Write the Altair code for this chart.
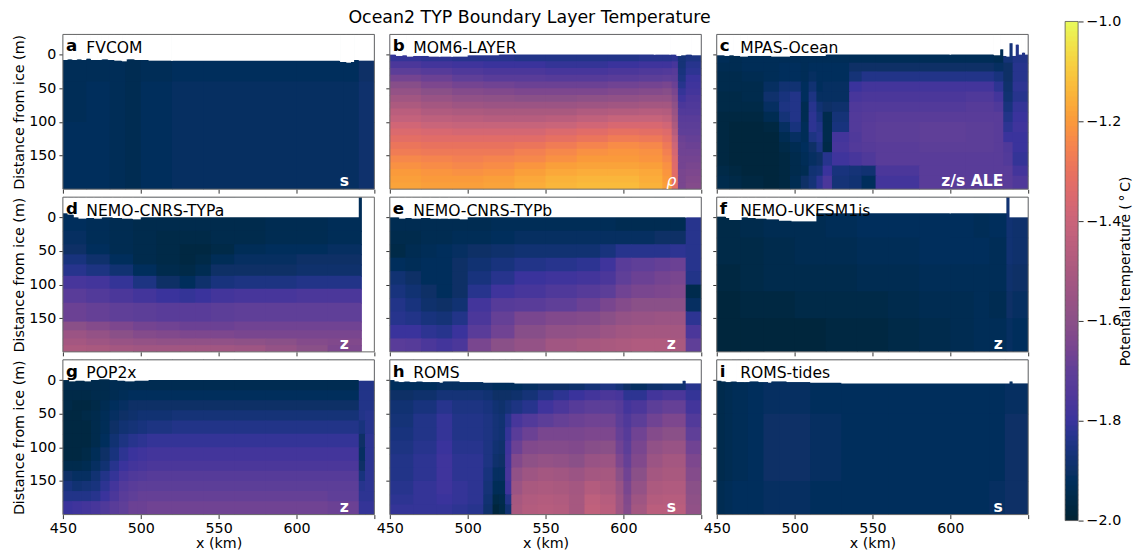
import altair as alt
import pandas as pd

THERMAL = ["#042333", "#0e3066", "#3a339c", "#5f3f98", "#8a5088", "#a9597f",
           "#c9657a", "#e8725e", "#fa9a3b", "#f8c93f", "#e8fa5b"]
W, H, FONT = 312, 155, "DejaVu Sans"
TOP = -30

# a FVCOM
A_X = [450, 465, 480, 490, 500, 520, 540, 600, 630, 640, 650]
A_Z = [TOP, 40, 100, 200]
A_T = [[193, 193, 193, 194, 193, 192, 192, 192, 192, 190],
       [193, 192, 193, 194, 192, 191, 191, 191, 191, 189],
       [192, 192, 193, 194, 192, 191, 191, 191, 191, 189]]
A_SX = [450, 453, 456, 459, 462, 465, 468, 472, 475, 479, 483, 488, 491, 496, 505, 520, 628, 632, 635, 637, 640, 650]
A_SD = [8, 7, 8, 7, 8, 6, 8, 8, 7, 8, 9, 10, 7, 8, 9, 9, 11, 12, 11, 8, 9]

# b MOM6-LAYER
B_X = [450, 470, 490, 510, 530, 550, 570, 590, 610, 625, 631, 635, 640, 650]
B_Z = [TOP, 10, 20, 30, 40, 50, 60, 70, 80, 90, 100, 110, 120, 130, 140, 150, 160, 170, 180, 190, 200]
B_T = [[181, 182, 183, 183, 184, 184, 184, 184, 183, 183, 182, 187, 185],
       [176, 178, 179, 180, 180, 181, 181, 180, 179, 179, 177, 187, 183],
       [171, 173, 175, 176, 176, 177, 177, 176, 175, 174, 173, 186, 182],
       [166, 168, 170, 172, 172, 173, 173, 172, 171, 170, 171, 185, 180],
       [161, 164, 166, 167, 168, 168, 168, 167, 166, 165, 168, 183, 179],
       [157, 160, 162, 163, 164, 164, 164, 163, 162, 161, 165, 181, 178],
       [153, 156, 158, 159, 160, 160, 159, 158, 157, 157, 162, 179, 176],
       [149, 152, 154, 155, 155, 155, 154, 153, 152, 152, 159, 176, 175],
       [145, 148, 149, 150, 150, 150, 148, 147, 146, 147, 156, 174, 174],
       [142, 144, 145, 146, 146, 145, 143, 141, 141, 143, 153, 172, 172],
       [138, 140, 141, 141, 141, 140, 138, 136, 136, 138, 149, 171, 171],
       [135, 136, 137, 137, 137, 135, 133, 131, 132, 134, 146, 170, 170],
       [132, 133, 133, 133, 133, 131, 129, 127, 128, 131, 142, 168, 169],
       [129, 130, 130, 130, 129, 127, 125, 123, 124, 128, 139, 167, 168],
       [127, 128, 128, 128, 126, 124, 122, 121, 122, 126, 137, 167, 167],
       [124, 125, 126, 125, 124, 122, 120, 120, 121, 124, 135, 166, 166],
       [122, 123, 124, 123, 121, 119, 118, 118, 119, 122, 134, 166, 165],
       [120, 121, 122, 121, 119, 117, 116, 116, 117, 121, 133, 165, 164],
       [119, 120, 120, 119, 117, 115, 114, 114, 116, 120, 132, 165, 163],
       [118, 119, 119, 118, 116, 114, 113, 113, 115, 119, 132, 165, 162]]
B_SX = [450, 454, 458, 461, 465, 470, 475, 482, 490, 500, 520, 620, 630, 634, 637, 640, 644, 650]
B_SD = [0, 2, 1, 3, 2, 2, 3, 3, 3, 1, 0, 0, 0, 2, 1, 0, 1]

# c MPAS-Ocean
C_X = [450, 458, 466, 480, 490, 497, 504, 509, 514, 518, 524, 535, 543, 552, 580, 610, 628, 634, 640, 650]
C_Z = [TOP, 12, 25, 40, 55, 70, 85, 100, 115, 130, 145, 165, 180, 200]
C_T = [[193, 194, 193, 193, 193, 193, 193, 193, 193, 193, 193, 193, 193, 193, 193, 193, 194, 187, 184],
       [194, 194, 193, 193, 192, 192, 193, 192, 192, 192, 192, 190, 190, 190, 190, 190, 191, 190, 183],
       [195, 195, 194, 193, 192, 192, 193, 191, 192, 192, 192, 187, 184, 184, 184, 184, 186, 190, 183],
       [195, 195, 195, 191, 188, 188, 192, 188, 192, 191, 191, 180, 178, 178, 178, 178, 182, 189, 182],
       [196, 196, 195, 189, 186, 184, 192, 185, 191, 191, 191, 177, 176, 176, 176, 175, 178, 188, 183],
       [196, 196, 196, 191, 185, 184, 194, 183, 188, 190, 189, 175, 174, 174, 174, 173, 175, 186, 181],
       [197, 197, 197, 194, 187, 184, 194, 182, 186, 195, 187, 174, 173, 172, 172, 172, 172, 184, 180],
       [197, 198, 198, 197, 191, 186, 193, 182, 184, 195, 186, 174, 172, 171, 170, 171, 172, 182, 179],
       [197, 198, 198, 198, 194, 191, 193, 185, 183, 195, 178, 175, 172, 171, 170, 171, 172, 180, 180],
       [197, 198, 198, 198, 196, 194, 192, 190, 185, 196, 177, 174, 173, 172, 171, 171, 172, 175, 180],
       [197, 198, 198, 198, 197, 195, 193, 191, 190, 183, 179, 177, 175, 172, 172, 172, 172, 174, 181],
       [196, 197, 198, 198, 197, 195, 194, 188, 187, 180, 186, 187, 188, 176, 172, 172, 172, 172, 178],
       [195, 196, 197, 198, 197, 194, 190, 187, 182, 176, 187, 188, 192, 178, 172, 172, 172, 172, 175]]
C_SX = [450, 455, 458, 461, 465, 470, 478, 485, 497, 520, 600, 628, 632, 634, 636, 638, 640, 642, 644, 646, 648, 650]
C_SD = [1, 2, 1, 2, 3, 2, 2, 3, 2, 0, 0, 1, -8, 2, 3, -17, 2, -15, 0, -3, 0]

# d NEMO-CNRS-TYPa
D_X = [450, 465, 480, 495, 510, 525, 535, 545, 560, 580, 600, 620, 642]
D_Z = [TOP, 20, 40, 55, 70, 87, 106, 127, 155, 168, 180, 190, 200]
D_T = [[192, 193, 194, 195, 195, 195, 195, 195, 195, 194, 194, 193],
       [191, 193, 194, 195, 196, 196, 196, 195, 195, 194, 194, 193],
       [190, 192, 194, 195, 196, 197, 197, 196, 193, 192, 192, 191],
       [186, 189, 192, 195, 196, 197, 196, 193, 191, 191, 190, 190],
       [183, 185, 188, 192, 195, 196, 194, 190, 190, 190, 189, 189],
       [177, 178, 181, 185, 190, 192, 189, 186, 185, 185, 184, 184],
       [172, 174, 176, 178, 180, 181, 180, 178, 177, 177, 176, 176],
       [168, 169, 170, 171, 172, 172, 172, 171, 170, 170, 170, 170],
       [160, 162, 164, 166, 167, 168, 168, 168, 167, 167, 167, 167],
       [155, 157, 160, 162, 163, 164, 164, 164, 165, 165, 165, 165],
       [152, 154, 156, 157, 158, 158, 158, 158, 159, 160, 162, 163],
       [149, 150, 152, 153, 153, 153, 153, 153, 154, 157, 160, 164]]
D_SX = [450, 453, 457, 460, 465, 470, 475, 482, 488, 495, 500, 640, 642]
D_SD = [-6, -4, 0, 2, 1, 2, 0, 1, 2, 3, 0, -30]

# e NEMO-CNRS-TYPb
E_X = [450, 460, 470, 480, 490, 500, 515, 530, 550, 570, 585, 595, 605, 620, 630, 640, 650]
E_Z = [TOP, 20, 40, 60, 80, 100, 120, 140, 160, 180, 200]
E_T = [[194, 194, 194, 194, 194, 194, 193, 193, 193, 193, 193, 194, 194, 194, 194, 183],
       [195, 195, 194, 194, 193, 193, 192, 191, 191, 191, 191, 191, 191, 190, 190, 183],
       [196, 194, 193, 192, 191, 190, 189, 188, 188, 188, 186, 183, 183, 183, 182, 183],
       [192, 193, 192, 192, 190, 188, 186, 184, 183, 182, 179, 172, 170, 169, 168, 183],
       [188, 190, 192, 192, 190, 186, 183, 180, 179, 178, 176, 170, 168, 166, 165, 184],
       [186, 188, 190, 192, 190, 183, 179, 177, 175, 173, 171, 167, 165, 164, 163, 195],
       [184, 186, 189, 190, 188, 178, 173, 172, 170, 168, 165, 162, 160, 160, 160, 191],
       [183, 184, 186, 187, 184, 176, 169, 165, 163, 162, 160, 157, 156, 155, 155, 182],
       [180, 180, 182, 183, 180, 172, 167, 161, 158, 157, 155, 153, 152, 152, 152, 176],
       [172, 173, 176, 178, 176, 165, 160, 157, 153, 151, 150, 149, 148, 148, 150, 170]]
E_SX = [450, 456, 460, 464, 470, 476, 482, 488, 495, 500, 640, 650]
E_SD = [0, 2, 1, 2, 1, 2, 2, 2, 3, 0, 0]

# f NEMO-UKESM1is
F_X = [450, 465, 480, 500, 520, 540, 560, 580, 600, 615, 625, 636, 640, 650]
F_Z = [TOP, 30, 70, 110, 150, 200]
F_T = [[196, 195, 194, 194, 193, 192, 192, 192, 192, 193, 192, 188, 189],
       [196, 196, 195, 194, 194, 193, 193, 192, 192, 192, 193, 188, 189],
       [197, 196, 195, 195, 195, 194, 194, 193, 193, 193, 193, 189, 190],
       [198, 197, 197, 196, 196, 196, 195, 194, 194, 193, 194, 190, 191],
       [198, 198, 198, 198, 197, 197, 196, 195, 194, 193, 193, 191, 192]]
F_SX = [450, 456, 458, 464, 466, 470, 475, 482, 490, 498, 514, 600, 636, 638, 650]
F_SD = [-1, 1, 4, 4, 0, 1, 2, 3, 5, 6, -6, -6, -30, 0]

# g POP2x
G_X = [450, 456, 462, 468, 474, 480, 486, 492, 498, 504, 520, 540, 560, 580, 600, 620, 640, 644, 650]
G_Z = [TOP, 15, 30, 45, 60, 80, 100, 120, 135, 150, 165, 180, 200]
G_T = [[195, 195, 195, 195, 195, 194, 194, 194, 194, 194, 194, 194, 194, 194, 194, 194, 184, 184],
       [196, 196, 196, 195, 195, 194, 193, 192, 192, 192, 192, 192, 192, 192, 192, 192, 184, 184],
       [196, 197, 197, 196, 194, 192, 191, 190, 190, 190, 190, 190, 190, 190, 190, 190, 184, 184],
       [197, 197, 196, 195, 193, 191, 190, 189, 188, 188, 187, 187, 187, 187, 187, 187, 184, 183],
       [197, 197, 197, 195, 193, 190, 188, 187, 186, 185, 184, 184, 184, 184, 184, 184, 186, 183],
       [197, 197, 197, 195, 192, 188, 185, 183, 182, 181, 181, 181, 181, 181, 181, 181, 190, 182],
       [197, 197, 196, 193, 190, 186, 182, 180, 179, 178, 178, 178, 178, 178, 178, 178, 191, 182],
       [195, 195, 194, 191, 188, 183, 180, 178, 177, 176, 176, 176, 176, 176, 176, 176, 190, 182],
       [190, 191, 191, 188, 184, 181, 177, 175, 174, 173, 173, 173, 173, 173, 173, 173, 186, 182],
       [186, 188, 187, 186, 182, 178, 174, 172, 171, 171, 171, 171, 171, 171, 171, 171, 183, 182],
       [184, 184, 184, 183, 180, 176, 172, 170, 169, 169, 169, 169, 169, 169, 169, 170, 182, 182],
       [180, 179, 178, 177, 175, 172, 170, 168, 168, 167, 167, 167, 167, 167, 167, 168, 181, 181]]
G_SX = [450, 454, 458, 464, 468, 473, 480, 485, 490, 496, 505, 640, 650]
G_SD = [0, 2, 1, 2, 0, -1, 0, 1, 2, 1, 0, 1]

# h ROMS
H_X = [450, 465, 480, 490, 500, 510, 516, 520, 524, 528, 535, 545, 555, 565, 575, 585, 595, 600, 605, 615, 625, 640, 650]
H_Z = [TOP, 15, 30, 50, 70, 90, 110, 130, 150, 170, 185, 200]
H_T = [[192, 192, 191, 191, 191, 191, 192, 192, 192, 192, 191, 190, 190, 189, 187, 185, 187, 190, 191, 189, 188, 183],
       [190, 189, 187, 187, 187, 188, 190, 190, 190, 189, 187, 184, 182, 180, 178, 176, 177, 182, 182, 178, 176, 181],
       [188, 186, 183, 185, 185, 186, 188, 189, 187, 185, 183, 179, 176, 173, 171, 171, 173, 178, 176, 171, 169, 178],
       [187, 184, 181, 184, 184, 185, 187, 188, 183, 177, 174, 171, 169, 168, 167, 167, 171, 175, 171, 167, 164, 174],
       [186, 184, 181, 184, 184, 185, 187, 188, 181, 172, 168, 165, 165, 165, 164, 164, 169, 173, 167, 162, 160, 170],
       [185, 183, 180, 183, 183, 185, 188, 189, 179, 168, 163, 162, 162, 163, 161, 160, 167, 171, 165, 158, 156, 167],
       [184, 182, 179, 182, 182, 185, 189, 190, 178, 163, 159, 157, 158, 160, 156, 155, 164, 169, 163, 155, 152, 164],
       [184, 182, 179, 182, 182, 186, 191, 191, 177, 158, 154, 152, 153, 155, 152, 151, 160, 167, 160, 152, 150, 162],
       [183, 181, 179, 181, 182, 187, 193, 193, 179, 155, 150, 149, 150, 152, 147, 149, 156, 165, 157, 149, 148, 160],
       [182, 181, 180, 181, 182, 188, 196, 195, 184, 151, 148, 147, 148, 151, 144, 146, 154, 163, 154, 147, 146, 159],
       [181, 181, 181, 182, 183, 189, 198, 196, 188, 150, 147, 146, 147, 151, 143, 145, 154, 162, 152, 145, 145, 158]]
H_SX = [450, 453, 456, 459, 463, 467, 471, 476, 482, 484, 495, 510, 530, 638, 640, 650]
H_SD = [0, 2, 3, 2, 3, 2, 3, 3, 4, 2, 3, 4, 5, 1, 5]

# i ROMS-tides
I_X = [450, 455, 460, 470, 480, 490, 510, 530, 560, 600, 625, 635, 650]
I_Z = [TOP, 50, 150, 200]
I_T = [[195, 194, 193, 192, 191, 191, 192, 192, 192, 192, 192, 191],
       [195, 194, 193, 192, 190, 190, 191, 192, 192, 192, 192, 190],
       [194, 193, 192, 192, 191, 191, 192, 192, 192, 192, 191, 190]]
I_SX = [450, 453, 456, 459, 463, 468, 471, 477, 483, 485, 495, 510, 530, 638, 640, 650]
I_SD = [1, 2, 3, 2, 3, 3, 2, 3, 4, 2, 3, 4, 5, 2, 5]

CBAR_LEVELS = [-200 + i for i in range(100)]
CBAR_TICKS = [-1.0, -1.2, -1.4, -1.6, -1.8, -2.0]
MAIN_TITLE = "Ocean2 TYP Boundary Layer Temperature"

color_scale = alt.Scale(domain=[-2, -1], range=THERMAL, clamp=True)


def cells(xs, zs, ts):
    assert len(ts) == len(zs) - 1, xs
    rows = []
    nx, nz = len(xs) - 1, len(zs) - 1
    for j, row in enumerate(ts):
        assert len(row) == nx, (xs, j, len(row))
        for i, v in enumerate(row):
            rows.append(dict(x0=xs[i], x1=xs[i + 1] + (0.6 if i < nx - 1 else 0),
                             z0=zs[j], z1=zs[j + 1] + (1.5 if j < nz - 1 else 0), t=-v / 100))
    return pd.DataFrame(rows)


def cover(sx, sd):
    assert len(sx) == len(sd) + 1, sx
    rows = [dict(x0=sx[i], x1=sx[i + 1], z0=TOP, z1=sd[i]) for i in range(len(sd))]
    # patches over the hairline joins between neighbouring white columns
    rows += [dict(x0=sx[i + 1] - 0.5, x1=sx[i + 1] + 0.5, z0=TOP, z1=min(sd[i], sd[i + 1])) for i in range(len(sd) - 1)]
    return pd.DataFrame(rows)


def panel(letter, name, tag, xs, zs, ts, sx, sd, col, row, name_x=23.5, tag_x=282, italic=False, head=None):
    xsc = alt.Scale(domain=[450, 650], nice=False, zero=False)
    ysc = alt.Scale(domain=[200, TOP], nice=False, zero=False)
    bottom, left = row == 2, col == 0
    x_axis = alt.Axis(values=[450, 500, 550, 600, 650], labels=bottom, grid=False, domain=False,
                      title="x (km)" if bottom else None, tickColor="#333", tickSize=4,
                      labelExpr="datum.value == 650 ? '' : datum.label", labelFontSize=14.3,
                      titleFontSize=14.3, titleFontWeight="normal", labelFont=FONT, titleFont=FONT,
                      labelColor="#000", titleColor="#000", labelPadding=3, titlePadding=1, labelFlush=False)
    y_axis = alt.Axis(values=[0, 50, 100, 150], labels=left, grid=False, domain=False,
                      title="Distance from ice (m)" if left else None, tickColor="#333", tickSize=4,
                      labelFontSize=14.3, titleFontSize=14.3, titleFontWeight="normal", labelFont=FONT,
                      titleFont=FONT, labelColor="#000", titleColor="#000", labelPadding=3, titlePadding=2)
    base = alt.Chart(cells(xs, zs, ts)).mark_rect().encode(
        x=alt.X("x0:Q", scale=xsc, axis=x_axis),
        x2="x1:Q",
        y=alt.Y("z0:Q", scale=ysc, axis=y_axis),
        y2="z1:Q",
        color=alt.Color("t:Q", scale=color_scale, legend=None),
    )
    white = alt.Chart(cover(sx, sd)).mark_rect(color="white").encode(
        x=alt.X("x0:Q", scale=xsc, axis=x_axis), x2="x1:Q",
        y=alt.Y("z0:Q", scale=ysc, axis=y_axis), y2="z1:Q",
    )
    frame = alt.Chart().mark_rect(fillOpacity=0, stroke="#666", strokeWidth=1).encode(
        x=alt.value(0), x2=alt.value(W), y=alt.value(0), y2=alt.value(H))
    t1 = alt.Chart().mark_text(text=letter, align="left", baseline="middle", font=FONT, fontSize=16.7,
                               fontWeight="bold", color="#000").encode(x=alt.value(3), y=alt.value(12))
    t2 = alt.Chart().mark_text(text=name, align="left", baseline="middle", font=FONT, fontSize=15.6,
                               color="#000").encode(x=alt.value(name_x), y=alt.value(13.5))
    t3 = alt.Chart().mark_text(text=tag, align="center", baseline="middle", font=FONT, fontSize=15.6,
                               fontWeight="normal" if italic else "bold", fontStyle="italic" if italic else "normal",
                               color="white").encode(x=alt.value(tag_x), y=alt.value(147))
    layers = [base, white, frame, t1, t2, t3]
    if head:
        layers.append(alt.Chart().mark_text(text=head, align="center", baseline="middle", font=FONT, fontSize=17.4,
                                            color="#000").encode(x=alt.value(140), y=alt.value(-16)))
    return alt.layer(*layers).properties(width=W, height=H)


a = panel("a", "FVCOM", "s", A_X, A_Z, A_T, A_SX, A_SD, 0, 0)
b = panel("b", "MOM6-LAYER", "\u03c1", B_X, B_Z, B_T, B_SX, B_SD, 1, 0, italic=True, head=MAIN_TITLE)
c = panel("c", "MPAS-Ocean", "z/s ALE", C_X, C_Z, C_T, C_SX, C_SD, 2, 0, tag_x=256)
d = panel("d", "NEMO-CNRS-TYPa", "z", D_X, D_Z, D_T, D_SX, D_SD, 0, 1)
e = panel("e", "NEMO-CNRS-TYPb", "z", E_X, E_Z, E_T, E_SX, E_SD, 1, 1)
f = panel("f", "NEMO-UKESM1is", "z", F_X, F_Z, F_T, F_SX, F_SD, 2, 1)
g = panel("g", "POP2x", "z", G_X, G_Z, G_T, G_SX, G_SD, 0, 2)
h = panel("h", "ROMS", "s", H_X, H_Z, H_T, H_SX, H_SD, 1, 2)
i = panel("i", "ROMS-tides", "s", I_X, I_Z, I_T, I_SX, I_SD, 2, 2)

left = alt.concat(a, b, c, d, e, f, g, h, i, columns=3, spacing={"row": 8, "column": 15.5}, bounds="flush")

CB_H, CB_UP = 487, -13
cbar_df = pd.DataFrame([dict(a=v / 100, b=(v + 1.3) / 100, t=(v + 0.5) / 100) for v in CBAR_LEVELS])
cbar = alt.Chart(cbar_df).mark_rect(clip=False).encode(
    x=alt.value(0), x2=alt.value(13),
    y=alt.Y("a:Q", scale=alt.Scale(domain=[-2, -1], range=[CB_H, CB_UP], nice=False, zero=False, clamp=True),
            axis=alt.Axis(values=CBAR_TICKS, format=".1f", orient="right", grid=False, domain=False,
                          tickColor="#333", tickSize=5, labelFontSize=14.3, labelFont=FONT, labelColor="#000",
                          title="Potential temperature (\u2009\u00b0\u2009C)", titleAngle=270,
                          titleFontSize=13.9, titleFont=FONT, titleFontWeight="normal", titleColor="#000",
                          labelPadding=3, titlePadding=12)),
    y2="b:Q",
    color=alt.Color("t:Q", scale=color_scale, legend=None),
).properties(width=13, height=CB_H)
cbar_frame = alt.Chart().mark_rect(fillOpacity=0, stroke="#555", strokeWidth=0.8).encode(
    x=alt.value(0), x2=alt.value(13), y=alt.value(CB_UP), y2=alt.value(CB_H))
cbar_full = alt.layer(cbar, cbar_frame).properties(width=13, height=CB_H)

chart = alt.hconcat(left, cbar_full, spacing=35).properties(
    padding={"left": 4, "top": 1, "right": 0, "bottom": 0}, background="white"
).configure_view(stroke=None)

chart.save("out.html", embed_options={"renderer": "svg", "actions": False})
